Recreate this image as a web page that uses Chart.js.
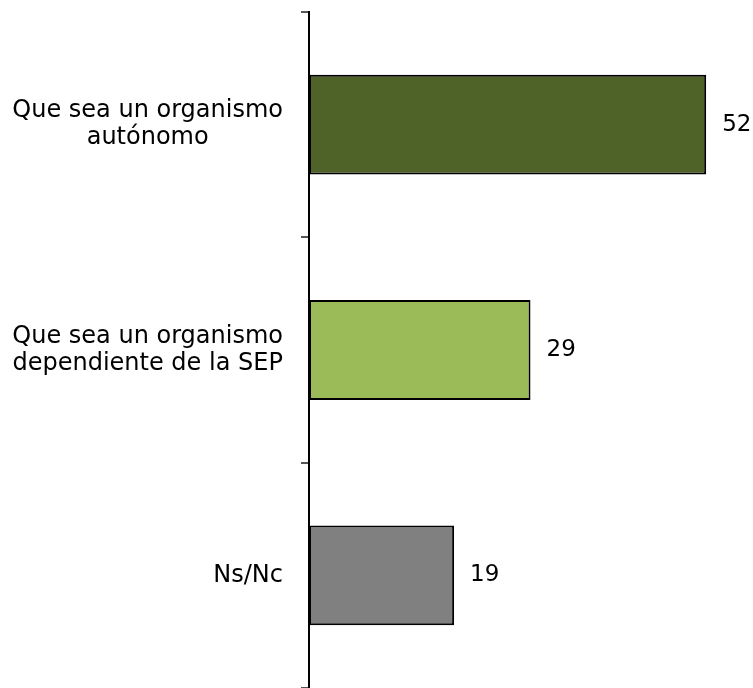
<!DOCTYPE html>
<html lang="es">
<head>
<meta charset="utf-8">
<script src="https://cdn.jsdelivr.net/npm/chart.js@4/dist/chart.umd.min.js"></script>
<style>
  html, body { margin: 0; padding: 0; background: #fff; overflow: hidden; }
  #wrap { width: 753px; height: 688px; }
</style>
</head>
<body>
<div id="wrap"><canvas id="grafic"></canvas></div>
<script>
const categories = [
    ['Que sea un organismo', 'autónomo'],
    ['Que sea un organismo', 'dependiente de la SEP'],
    ['Ns/Nc']
];
const values = [52, 29, 19];
const barColors = ['#4F6228', '#9BBB59', '#808080'];

const CAT_FONT = '24px "DejaVu Sans", sans-serif';
const VAL_FONT = '23px "DejaVu Sans", sans-serif';

// etiquetes de categoria: bloc alineat a la dreta, línies centrades
const catLabels = {
    id: 'catLabels',
    afterDraw(chart) {
        const ctx = chart.ctx;
        const y = chart.scales.y;
        const right = y.right - 26;
        const lh = 27;
        ctx.save();
        ctx.font = CAT_FONT;
        ctx.fillStyle = '#000';
        ctx.textAlign = 'center';
        ctx.textBaseline = 'middle';
        categories.forEach((lines, i) => {
            const w = Math.max(...lines.map(l => ctx.measureText(l).width));
            const cx = right - w / 2;
            const cy = y.getPixelForValue(i);
            const top = cy - (lines.length - 1) * lh / 2;
            lines.forEach((l, j) => ctx.fillText(l, cx, top + j * lh));
        });
        ctx.restore();
    }
};

const valueLabels = {
    id: 'valueLabels',
    afterDatasetsDraw(chart) {
        const ctx = chart.ctx;
        const meta = chart.getDatasetMeta(0);
        ctx.save();
        ctx.font = VAL_FONT;
        ctx.fillStyle = '#000';
        ctx.textAlign = 'left';
        ctx.textBaseline = 'middle';
        meta.data.forEach((bar, i) => {
            ctx.fillText(values[i], bar.x + 16, bar.y);
        });
        ctx.restore();
    }
};

new Chart(document.getElementById('grafic'), {
    type: 'bar',
    data: {
        labels: categories,
        datasets: [{
            data: values,
            backgroundColor: barColors,
            borderColor: '#000',
            borderWidth: 2,
            borderSkipped: false,
            barPercentage: 0.443,
            categoryPercentage: 1
        }]
    },
    options: {
        indexAxis: 'y',
        responsive: true,
        maintainAspectRatio: false,
        animation: false,
        layout: { padding: { top: 12, right: 1, bottom: 0, left: 0 } },
        plugins: {
            legend: { display: false },
            tooltip: { enabled: false }
        },
        scales: {
            x: {
                display: false,
                min: 0,
                max: 58
            },
            y: {
                offset: true,
                afterFit: s => { s.width = 309; },
                ticks: { display: false },
                grid: {
                    offset: true,
                    drawOnChartArea: false,
                    drawTicks: true,
                    tickLength: 8,
                    color: '#555',
                    lineWidth: 2
                },
                border: { display: true, color: '#000', width: 2 }
            }
        }
    },
    plugins: [catLabels, valueLabels]
});
</script>
</body>
</html>
